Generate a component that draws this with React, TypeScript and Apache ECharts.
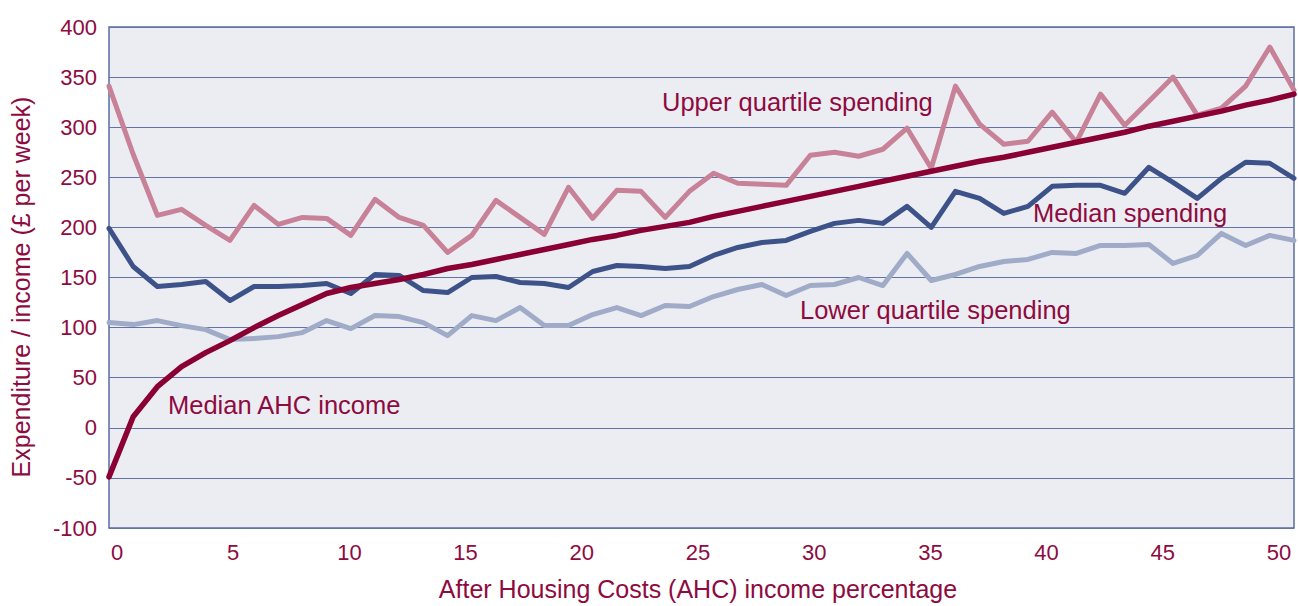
import React, { useEffect, useRef } from "react";
import * as echarts from "echarts";

const categories = [
  "1", "2", "3", "4", "5", "6", "7", "8", "9", "10",
  "11", "12", "13", "14", "15", "16", "17", "18", "19", "20",
  "21", "22", "23", "24", "25", "26", "27", "28", "29", "30",
  "31", "32", "33", "34", "35", "36", "37", "38", "39", "40",
  "41", "42", "43", "44", "45", "46", "47", "48", "49", "50",
];

const upperQuartile = [
  341, 273, 212, 218, 202, 187, 222, 203, 210, 209,
  192, 228, 210, 202, 175, 192, 227, 210, 193, 240,
  209, 237, 236, 210, 236, 254, 244, 243, 242, 272,
  275, 271, 278, 299, 259, 341, 303, 283, 286, 315,
  285, 333, 302, 326, 350, 312, 319, 341, 380, 337,
];

const medianSpending = [
  199, 161, 141, 143, 146, 127, 141, 141, 142, 144,
  134, 153, 152, 137, 135, 150, 151, 145, 144, 140,
  156, 162, 161, 159, 161, 172, 180, 185, 187, 196,
  204, 207, 204, 221, 200, 236, 229, 214, 221, 241,
  242, 242, 234, 260, 245, 229, 249, 265, 264, 249,
];

const lowerQuartile = [
  105, 103, 107, 102, 98, 88, 89, 91, 95, 107,
  99, 112, 111, 105, 92, 112, 107, 120, 102, 102,
  113, 120, 112, 122, 121, 131, 138, 143, 132, 142,
  143, 150, 142, 174, 147, 153, 161, 166, 168, 175,
  174, 182, 182, 183, 164, 172, 194, 182, 192, 187,
];

const medianIncome = [
  -49, 11, 41, 61, 75, 87, 100, 112, 123, 134,
  140, 144, 148, 153, 159, 163, 168, 173, 178, 183,
  188, 192, 197, 201, 205, 211, 216, 221, 226, 231,
  236, 241, 246, 251, 256, 261, 266, 270, 275, 280,
  285, 290, 295, 301, 306, 311, 316, 322, 327, 333,
];

const TEXT = "#8E0B3F";
const FONT = "'Liberation Sans', Arial, sans-serif";
const GRIDLINE = "#6174a4";

export default function App() {
  const ref = useRef<HTMLDivElement>(null);

  useEffect(() => {
    if (!ref.current) return;
    const chart = echarts.init(ref.current, undefined, { renderer: "svg" });
    const line = (name: string, data: number[], color: string, width: number) => ({
      name,
      type: "line",
      xAxisIndex: 0,
      yAxisIndex: 0,
      data,
      symbol: "none",
      smooth: false,
      lineStyle: { color, width, join: "round", cap: "round" },
    });
    chart.setOption({
      animation: false,
      backgroundColor: "#ffffff",
      textStyle: { fontFamily: FONT },
      grid: [
        {
          left: 109,
          right: 4,
          top: 27,
          bottom: 78,
          show: true,
          backgroundColor: "#ECEDF3",
          borderColor: "#5a6da0",
          borderWidth: 1.5,
        },
        { left: 117, right: 19, top: 27, bottom: 78, show: false },
      ],
      xAxis: [
        {
          type: "category",
          gridIndex: 0,
          data: categories,
          boundaryGap: false,
          axisLine: { show: false },
          axisTick: { show: false },
          axisLabel: { show: false },
          splitLine: { show: false },
        },
        {
          type: "value",
          gridIndex: 1,
          min: 0,
          max: 50,
          interval: 5,
          axisLine: { show: false },
          axisTick: { show: false },
          splitLine: { show: false },
          axisLabel: { color: TEXT, fontSize: 22, margin: 17, fontFamily: FONT },
          name: "After Housing Costs (AHC) income percentage",
          nameLocation: "middle",
          nameGap: 52,
          nameTextStyle: { color: TEXT, fontSize: 25, fontFamily: FONT },
        },
      ],
      yAxis: [
        {
          type: "value",
          gridIndex: 0,
          min: -100,
          max: 400,
          interval: 50,
          axisLine: { show: false },
          axisTick: { show: false },
          axisLabel: { color: TEXT, fontSize: 22, margin: 12, fontFamily: FONT },
          splitLine: { show: true, lineStyle: { color: GRIDLINE, width: 1 } },
        },
        { type: "value", gridIndex: 1, min: -100, max: 400, show: false },
      ],
      series: [
        line("Lower quartile spending", lowerQuartile, "#9FABC7", 5),
        line("Median spending", medianSpending, "#3D5288", 5),
        line("Upper quartile spending", upperQuartile, "#C88298", 5),
        line("Median AHC income", medianIncome, "#8A0033", 5.5),
      ],
      graphic: [
        {
          type: "text",
          x: 21,
          y: 287,
          rotation: Math.PI / 2,
          style: {
            text: "Expenditure / income (£ per week)",
            fill: TEXT,
            fontSize: 25,
            fontFamily: FONT,
            align: "center",
            verticalAlign: "middle",
          },
        },
        {
          type: "text",
          x: 662,
          y: 102,
          style: { text: "Upper quartile spending", fill: TEXT, fontSize: 25.5, fontFamily: FONT, align: "left", verticalAlign: "middle" },
        },
        {
          type: "text",
          x: 1033,
          y: 213,
          style: { text: "Median spending", fill: TEXT, fontSize: 25.5, fontFamily: FONT, align: "left", verticalAlign: "middle" },
        },
        {
          type: "text",
          x: 800,
          y: 310,
          style: { text: "Lower quartile spending", fill: TEXT, fontSize: 25.5, fontFamily: FONT, align: "left", verticalAlign: "middle" },
        },
        {
          type: "text",
          x: 168,
          y: 405,
          style: { text: "Median AHC income", fill: TEXT, fontSize: 25.5, fontFamily: FONT, align: "left", verticalAlign: "middle" },
        },
      ],
    });
    return () => chart.dispose();
  }, []);

  return (
    <div
      ref={ref}
      style={{ position: "fixed", left: 0, top: 0, width: 1298, height: 606, background: "#fff" }}
    />
  );
}
